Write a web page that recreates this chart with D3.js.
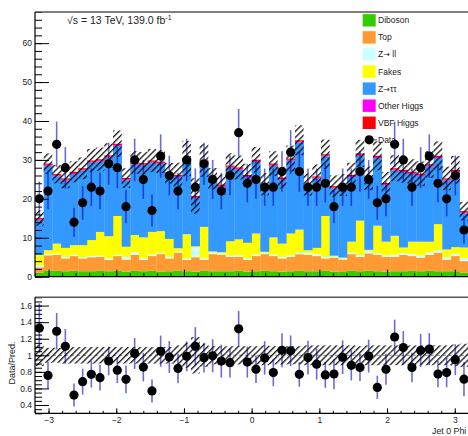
<!DOCTYPE html>
<html><head><meta charset="utf-8">
<script src="https://cdn.jsdelivr.net/npm/d3@7"></script>
<style>
html,body{margin:0;padding:0;background:#fff;}
svg{display:block;font-family:"Liberation Sans",Arial,Helvetica,sans-serif;}
</style></head><body>
<svg id="c" width="468" height="436"></svg>
<script>
// Jet 0 phi: 50 bins between -3.2 and 3.2
const phiLo = -3.2, phiHi = 3.2, nBins = 50;

// Background components, events per bin (stacked bottom to top)
const diboson = [1.0,1.6,1.5,1.4,1.5,1.4,1.4,1.5,1.4,1.5, 1.3,1.5,1.4,1.5,1.3,1.4,1.5,1.4,1.3,1.5, 1.4,1.4,1.4,1.5,1.3,1.4,1.5,1.4,1.3,1.4, 1.5,1.4,1.4,1.5,1.3,1.2,1.5,1.4,1.5,1.4, 1.3,1.4,1.4,1.5,1.4,1.5,1.4,1.4,1.4,1.0];
const top_ = [1.4,3.9,4.1,3.3,3.8,3.3,3.6,3.6,2.9,3.8, 3.1,4.1,2.9,3.8,4.5,3.3,4.7,2.9,3.7,2.8, 4.4,4.2,3.7,3.6,3.0,3.9,4.3,3.9,3.4,3.7, 4.3,4.2,3.9,3.2,3.6,3.2,4.3,3.7,4.5,4.2, 3.8,3.7,4.2,3.8,3.5,4.1,4.8,3.0,3.9,3.0];
const zll = [0.6,0.3,0.3,0.4,0.3,0.3,0.3,0.3,0.4,0.3, 0.7,0.7,0.4,0.4,0.3,0.4,0.3,0.4,2.5,0.4, 0.4,0.4,0.4,0.4,0.4,0.4,0.4,0.4,0.4,0.4, 0.4,0.5,0.5,0.4,0.3,0.3,0.4,0.5,0.6,0.4, 0.4,0.5,0.5,0.5,0.5,0.6,0.6,0.6,0.6,0.8];
const fakes = [2.6,1.0,2.6,2.3,2.5,3.1,4.1,6.1,5.7,10.0, 2.6,4.4,5.4,5.8,5.6,4.6,0.8,6.2,0.3,8.1, 0.3,0.3,3.6,4.1,4.0,5.4,0.2,4.4,3.4,5.6, 5.9,0.7,1.6,10.5,0.2,0.2,2.8,8.8,0.3,7.1, 3.5,4.9,1.4,3.2,3.6,2.8,6.7,2.0,1.7,2.7];
const ztautau = [8.9,21.7,17.3,17.3,18.3,19.2,19.9,18.1,20.2,18.0, 17.1,18.1,18.5,17.8,17.3,16.3,18.3,18.9,12.4,16.5, 18.1,16.8,18.9,17.9,16.9,18.4,16.8,18.4,16.4,18.7, 22.4,16.3,17.8,15.3,17.3,18.1,16.6,16.7,17.8,17.4, 14.5,16.8,19.4,17.4,16.9,19.3,17.0,17.7,19.3,8.8];
const otherHiggs = [0.25,0.25,0.25,0.25,0.25,0.25,0.25,0.25,0.25,0.25, 0.25,0.25,0.25,0.25,0.25,0.25,0.25,0.25,0.25,0.25, 0.25,0.25,0.25,0.25,0.25,0.25,0.25,0.25,0.25,0.25, 0.25,0.25,0.25,0.25,0.25,0.25,0.25,0.25,0.25,0.25, 0.25,0.25,0.25,0.25,0.25,0.25,0.25,0.25,0.25,0.25];
const vbfHiggs = [0.3,0.3,0.3,0.3,0.3,0.3,0.3,0.3,0.3,0.3, 0.3,0.3,0.3,0.3,0.3,0.3,0.3,0.3,0.3,0.3, 0.3,0.3,0.3,0.3,0.3,0.3,0.3,0.3,0.3,0.3, 0.3,0.3,0.3,0.3,0.3,0.3,0.3,0.3,0.3,0.3, 0.3,0.3,0.3,0.3,0.3,0.3,0.3,0.3,0.3,0.3];

// Observed events per bin
const dataCounts = [20,22,34,28,14,19,23,22,29,28, 18,30,25,17,31,26,22,30,23,29, 25,22,26,37,24,25,23,23,27,32, 27,23,23,24,18,23,23,27,25,19, 20,34,30,23,28,31,24,20,26,12];

// Relative uncertainty on the total prediction
const relUnc = [0.13,0.09,0.09,0.10,0.10,0.10,0.10,0.10,0.10,0.10, 0.10,0.10,0.10,0.10,0.10,0.10,0.12,0.15,0.22,0.14, 0.11,0.11,0.11,0.11,0.11,0.11,0.12,0.11,0.11,0.11, 0.11,0.12,0.12,0.12,0.12,0.12,0.12,0.11,0.12,0.12, 0.12,0.12,0.12,0.12,0.12,0.12,0.12,0.12,0.13,0.14];

const sampleNames = [["Diboson"],["Top"],["Z","\u2192"," ll"],["Fakes"],["Z","\u2192","\u03c4\u03c4"],["Other Higgs"],["VBF Higgs"]];
const sampleColors = ["#33cc00","#ff9933","#ccffff","#ffff00","#3399ff","#ff00ff","#ff0000"];
const samples = [diboson, top_, zll, fakes, ztautau, otherHiggs, vbfHiggs];

const mainYTicks = [0,10,20,30,40,50,60];
const ratioYTicks = [0.4,0.6,0.8,1.0,1.2,1.4,1.6];
const xTicks = [-3,-2,-1,0,1,2,3];

const svg = d3.select("#c");
const ink = "#222";

const x = d3.scaleLinear().domain([phiLo, phiHi]).range([35, 468.3]);
const y = d3.scaleLinear().domain([0, 68]).range([276.7, 12]);
const yr = d3.scaleLinear().domain([0.3, 1.7]).range([413.3, 297.3]);

const binW = (phiHi - phiLo) / nBins;
const bins = d3.range(nBins).map(i => ({i, lo: phiLo + i*binW, hi: phiLo + (i+1)*binW}));

// hatch pattern for the uncertainty bands
const defs = svg.append("defs");
defs.append("pattern").attr("id","hatch").attr("patternUnits","userSpaceOnUse")
  .attr("width",4.3).attr("height",4.3).attr("patternTransform","rotate(45)")
  .append("line").attr("x1",0.7).attr("y1",0).attr("x2",0.7).attr("y2",4.3)
  .attr("stroke","#000").attr("stroke-width",1.2);
defs.append("clipPath").attr("id","clipMain").append("rect")
  .attr("x",35).attr("y",12).attr("width",434).attr("height",264.7);
defs.append("clipPath").attr("id","clipRatio").append("rect")
  .attr("x",35).attr("y",297.3).attr("width",434).attr("height",116);

// ---------- main panel ----------
const stacked = d3.stack().keys(d3.range(samples.length))
  .value((d, k) => samples[k][d.i])(bins);
const totals = bins.map(b => d3.sum(samples, s => s[b.i]));

const gMain = svg.append("g").attr("clip-path","url(#clipMain)");
stacked.forEach((layer, k) => {
  gMain.append("g").selectAll("rect").data(layer).join("rect")
    .attr("x", d => x(d.data.lo))
    .attr("width", d => x(d.data.hi) - x(d.data.lo) + 0.3)
    .attr("y", d => y(d[1]))
    .attr("height", d => Math.max(0, y(d[0]) - y(d[1])))
    .attr("fill", sampleColors[k]);
});

gMain.append("g").selectAll("rect").data(bins).join("rect")
  .attr("x", d => x(d.lo)).attr("width", d => x(d.hi) - x(d.lo))
  .attr("y", d => y(totals[d.i]*(1+relUnc[d.i])))
  .attr("height", d => y(totals[d.i]*(1-relUnc[d.i])) - y(totals[d.i]*(1+relUnc[d.i])))
  .attr("fill","url(#hatch)");

const barColor = "#6c6cd6";
gMain.append("g").selectAll("line").data(bins).join("line")
  .attr("x1", d => x((d.lo+d.hi)/2)).attr("x2", d => x((d.lo+d.hi)/2))
  .attr("y1", d => y(dataCounts[d.i] + Math.sqrt(dataCounts[d.i])))
  .attr("y2", d => y(dataCounts[d.i] - Math.sqrt(dataCounts[d.i])))
  .attr("stroke", barColor).attr("stroke-width",1.6)
  .style("mix-blend-mode","multiply");
gMain.append("g").selectAll("circle").data(bins).join("circle")
  .attr("cx", d => x((d.lo+d.hi)/2)).attr("cy", d => y(dataCounts[d.i]))
  .attr("r", 4.6).attr("fill","#000");

// main axes
const axMajor = d3.axisLeft(y).tickValues(mainYTicks).tickSizeInner(-14).tickSizeOuter(0).tickPadding(3).tickFormat(d3.format("d"));
const axMinor = d3.axisLeft(y).tickValues(d3.range(0, 69, 2)).tickSizeInner(-7).tickSizeOuter(0).tickFormat("");
function styleAxis(g, fs){
  g.select(".domain").remove();
  g.selectAll("line").attr("stroke","#000");
  g.selectAll("text").attr("fill",ink).style("font-size",fs+"px").style("font-family","Liberation Sans, Arial, sans-serif");
}
svg.append("g").attr("transform","translate(35,0)").call(axMinor).call(g=>styleAxis(g,8.5));
svg.append("g").attr("transform","translate(35,0)").call(axMajor).call(g=>styleAxis(g,8.5));
const axXMainMaj = d3.axisBottom(x).tickValues(xTicks).tickSizeInner(-7).tickSizeOuter(0).tickFormat("");
const axXMainMin = d3.axisBottom(x).tickValues(d3.range(-3.2, 3.21, 0.2)).tickSizeInner(-3.5).tickSizeOuter(0).tickFormat("");
svg.append("g").attr("transform","translate(0,276.7)").call(axXMainMin).call(g=>styleAxis(g,8));
svg.append("g").attr("transform","translate(0,276.7)").call(axXMainMaj).call(g=>styleAxis(g,8));

// frame
svg.append("line").attr("x1",35).attr("x2",470).attr("y1",12).attr("y2",12).attr("stroke","#555").attr("stroke-width",1.6);
svg.append("line").attr("x1",35).attr("x2",35).attr("y1",12).attr("y2",276.7).attr("stroke","#000").attr("stroke-width",1.2);
svg.append("line").attr("x1",35).attr("x2",470).attr("y1",276.7).attr("y2",276.7).attr("stroke","#000").attr("stroke-width",1.2);

// label
const lab = svg.append("text").attr("x",67).attr("y",24).attr("fill",ink).style("font-size","10.5px");
lab.append("tspan").text("\u221As = 13 TeV, 139.0 fb");
lab.append("tspan").attr("dy",-4.5).style("font-size","7px").text("-1");

// legend
const leg = svg.append("g");
sampleNames.forEach((parts, k) => {
  const cy = 20.3 + 17.08*k;
  leg.append("rect").attr("x",362.7).attr("y",cy-6.2).attr("width",13).attr("height",12.4).attr("fill",sampleColors[k]);
  const t = leg.append("text").attr("x",378).attr("y",cy).attr("dy","0.35em").attr("fill",ink).style("font-size","8.5px");
  parts.forEach(p => {
    const s = t.append("tspan").text(p);
    if (p === "\u2192") s.style("font-family","DejaVu Sans").style("font-size","8px");
  });
});
{
  const cy = 20.3 + 17.08*7;
  leg.append("line").attr("x1",369).attr("x2",377).attr("y1",cy).attr("y2",cy).attr("stroke",barColor).attr("stroke-width",1.4);
  leg.append("circle").attr("cx",369.2).attr("cy",cy).attr("r",4.6).attr("fill","#000");
  leg.append("text").attr("x",378).attr("y",cy).attr("dy","0.35em").attr("fill",ink).style("font-size","8.5px").text("Data");
}

// ---------- ratio panel ----------
const gRatio = svg.append("g").attr("clip-path","url(#clipRatio)");
gRatio.append("line").attr("x1",35).attr("x2",470).attr("y1",yr(1)).attr("y2",yr(1))
  .attr("stroke","#777").attr("stroke-width",0.8).attr("stroke-dasharray","3,3");
gRatio.append("g").selectAll("rect").data(bins).join("rect")
  .attr("x", d => x(d.lo)).attr("width", d => x(d.hi) - x(d.lo))
  .attr("y", d => yr(1+relUnc[d.i]))
  .attr("height", d => yr(1-relUnc[d.i]) - yr(1+relUnc[d.i]))
  .attr("fill","url(#hatch)");
gRatio.append("g").selectAll("line").data(bins).join("line")
  .attr("x1", d => x((d.lo+d.hi)/2)).attr("x2", d => x((d.lo+d.hi)/2))
  .attr("y1", d => yr((dataCounts[d.i] + Math.sqrt(dataCounts[d.i]))/totals[d.i]))
  .attr("y2", d => yr((dataCounts[d.i] - Math.sqrt(dataCounts[d.i]))/totals[d.i]))
  .attr("stroke", barColor).attr("stroke-width",1.6)
  .style("mix-blend-mode","multiply");
gRatio.append("g").selectAll("circle").data(bins).join("circle")
  .attr("cx", d => x((d.lo+d.hi)/2)).attr("cy", d => yr(dataCounts[d.i]/totals[d.i]))
  .attr("r", 4.6).attr("fill","#000");

const ratioFmt = d => d === 1 ? "1" : d3.format(".1f")(d);
const axR = d3.axisLeft(yr).tickValues(ratioYTicks).tickSizeInner(-14).tickSizeOuter(0).tickPadding(3).tickFormat(ratioFmt);
const axRmin = d3.axisLeft(yr).tickValues(d3.range(0.3, 1.701, 0.05)).tickSizeInner(-7).tickSizeOuter(0).tickFormat("");
svg.append("g").attr("transform","translate(35,0)").call(axRmin).call(g=>styleAxis(g,8.5));
svg.append("g").attr("transform","translate(35,0)").call(axR).call(g=>styleAxis(g,8.5));
const axXR = d3.axisBottom(x).tickValues(xTicks).tickSizeInner(-5).tickSizeOuter(0).tickPadding(4).tickFormat(d3.format("d"));
const axXRmin = d3.axisBottom(x).tickValues(d3.range(-3.2, 3.21, 0.2)).tickSizeInner(-2.5).tickSizeOuter(0).tickFormat("");
svg.append("g").attr("transform","translate(0,413.3)").call(axXRmin).call(g=>styleAxis(g,8.5));
svg.append("g").attr("transform","translate(0,413.3)").call(axXR).call(g=>styleAxis(g,8.5));

svg.append("line").attr("x1",35).attr("x2",470).attr("y1",297.3).attr("y2",297.3).attr("stroke","#555").attr("stroke-width",1.6);
svg.append("line").attr("x1",35).attr("x2",35).attr("y1",297.3).attr("y2",413.3).attr("stroke","#000").attr("stroke-width",1.2);
svg.append("line").attr("x1",35).attr("x2",470).attr("y1",413.3).attr("y2",413.3).attr("stroke","#000").attr("stroke-width",1.2);

svg.append("text").attr("transform","translate(15,363) rotate(-90)").attr("text-anchor","middle")
  .attr("fill",ink).style("font-size","9px").text("Data/Pred.");
svg.append("text").attr("x",432).attr("y",434).attr("fill",ink).style("font-size","8.8px").text("Jet 0 Phi");
</script>
</body></html>
